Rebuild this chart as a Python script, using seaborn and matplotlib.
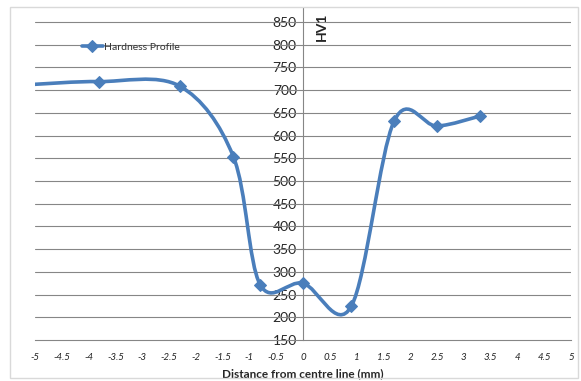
import numpy as np
import pandas as pd
import seaborn as sns
import matplotlib.pyplot as plt
from matplotlib.path import Path
from matplotlib.patches import PathPatch, Rectangle

# Valores
distance = [-5.0, -3.8, -2.3, -1.3, -0.8, 0.0, 0.9, 1.7, 2.5, 3.3]
hardness = [713, 719, 709, 554, 272, 275, 224, 632, 621, 643]
series_name = "Hardness Profile"
x_ticks = [-5, -4.5, -4, -3.5, -3, -2.5, -2, -1.5, -1, -0.5, 0, 0.5, 1, 1.5, 2, 2.5, 3, 3.5, 4, 4.5, 5]
y_ticks = [150, 200, 250, 300, 350, 400, 450, 500, 550, 600, 650, 700, 750, 800, 850]

df = pd.DataFrame({"dist": distance, "hv": hardness})

sns.set_style("white")
plt.rcParams['font.family'] = ['Lato', 'DejaVu Sans']

blue = "#4A7EBB"
grid_grey = "#868686"

fig = plt.figure(figsize=(5.81, 3.81), dpi=100)
ax = fig.add_axes([35 / 581, 1 - 340 / 381, 536 / 581, 332 / 381])

# Curva suavizada (Bezier tipo Excel) a partir dos pontos
pts = df[["dist", "hv"]].to_numpy(dtype=float)
ext = np.vstack([pts[0], pts, pts[-1]])
verts = [tuple(pts[0])]
codes = [Path.MOVETO]
for i in range(len(pts) - 1):
    p0, p1, p2, p3 = ext[i], ext[i + 1], ext[i + 2], ext[i + 3]
    c1 = p1 + (p2 - p0) / 6
    c2 = p2 - (p3 - p1) / 6
    verts += [tuple(c1), tuple(c2), tuple(p2)]
    codes += [Path.CURVE4] * 3
ax.add_patch(PathPatch(Path(verts, codes), fill=False, edgecolor=blue,
                       lw=2.6, zorder=3, capstyle="round", joinstyle="round"))

# Marcadores + legenda (o primeiro ponto fica na borda, sem marcador visível)
sns.lineplot(data=df, x="dist", y="hv", ax=ax, color=blue, marker="D",
             markersize=6, markeredgecolor=blue, lw=2.6, label=series_name,
             sort=False, zorder=4, markevery=list(range(1, len(distance))))
ax.lines[-1].set_linestyle("")
leg = ax.legend(frameon=False, loc="upper left", bbox_to_anchor=(0.07, 0.925),
                fontsize=7.5, handlelength=2.0, handletextpad=0.1)
for h in leg.get_lines():
    h.set_linestyle("-")
for t in leg.get_texts():
    t.set_color("#333333")

ax.set_xlim(-5, 5)
ax.set_ylim(150, 881)
ax.set_xticks(x_ticks)
ax.set_xticklabels([f"{t:g}" for t in x_ticks], fontsize=7, style="italic", color="#222222")
ax.set_yticks(y_ticks)
ax.set_yticklabels([str(t) for t in y_ticks], fontsize=7, style="italic", color="#222222")

for y in y_ticks[1:]:
    ax.axhline(y, color=grid_grey, lw=0.8, zorder=1)

ax.spines['left'].set_position(('data', 0))
ax.spines['top'].set_visible(False)
ax.spines['right'].set_visible(False)
for s in ['left', 'bottom']:
    ax.spines[s].set_color(grid_grey)
    ax.spines[s].set_linewidth(0.8)
ax.tick_params(axis='both', length=3, width=0.8, color=grid_grey, direction="inout")
ax.tick_params(axis='x', pad=8)
ax.tick_params(axis='y', pad=3)

ax.set_xlabel("Distance from centre line (mm)", fontsize=8.5, fontweight="bold", labelpad=4)
ax.set_ylabel("")
fig.text(322 / 581, 1 - 27 / 381, "HV1", rotation=90, fontsize=10, fontweight="bold",
         ha="center", va="center")

# Borda externa do gráfico
fig.add_artist(Rectangle((10 / 581, 3 / 381), 568 / 581, 371 / 381, transform=fig.transFigure,
                         fill=False, edgecolor="#d9d9d9", lw=1))

fig.savefig("out.png", dpi=100)
